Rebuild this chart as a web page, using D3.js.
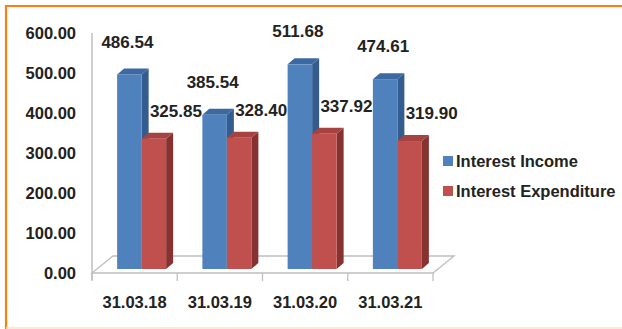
<!DOCTYPE html>
<html>
<head>
<meta charset="utf-8">
<script src="https://cdn.jsdelivr.net/npm/d3@7"></script>
<style>
  html, body { margin: 0; padding: 0; background: #fff; }
  svg { display: block; font-family: "Liberation Sans", Arial, sans-serif; font-weight: bold; }
</style>
</head>
<body>
<svg id="chart" width="622" height="329"></svg>
<script>
// Year-end figures
const categories = ["31.03.18", "31.03.19", "31.03.20", "31.03.21"];
const seriesNames = ["Interest Income", "Interest Expenditure"];
const interestIncome = [486.54, 385.54, 511.68, 474.61];
const interestExpenditure = [325.85, 328.40, 337.92, 319.90];
const yTicks = [0, 100, 200, 300, 400, 500, 600];

const svg = d3.select("#chart");
const W = 622, H = 329;

// frame: orange on top and left, pale on the bottom
svg.append("line").attr("x1", 5).attr("x2", W).attr("y1", 6).attr("y2", 6)
  .attr("stroke", "#FF7F0E").attr("stroke-width", 2.2);
svg.append("line").attr("x1", 6).attr("x2", 6).attr("y1", 5).attr("y2", 329)
  .attr("stroke", "#FF7F0E").attr("stroke-width", 2.2);
svg.append("line").attr("x1", 6).attr("x2", W).attr("y1", 328).attr("y2", 328)
  .attr("stroke", "#FFE2C4").attr("stroke-width", 1.5);

// plot geometry (front plane of the 3D box)
const left = 92, right = 433, floorY = 273, topY = 33;
const depthX = 21, depthY = -17;          // floor depth
const barDX = 7, barDY = -6;              // bar thickness
const barLift = -4;                       // bars stand a little behind the front edge
const barShift = 7;

const x = d3.scaleBand().domain(categories).range([left, right]).padding(0);
const y = d3.scaleLinear().domain([0, 600]).range([floorY, topY]);
const inner = d3.scaleBand().domain(seriesNames).range([0, 49]).padding(0);

const grey = "#BFBFBF";

// floor
svg.append("path")
  .attr("d", `M${left},${floorY} L${right},${floorY} L${right + depthX},${floorY + depthY} L${left + depthX},${floorY + depthY} Z`)
  .attr("fill", "none").attr("stroke", grey).attr("stroke-width", 1.3);

// value axis line
svg.append("line").attr("x1", left).attr("x2", left).attr("y1", y(600)).attr("y2", floorY + 7)
  .attr("stroke", grey).attr("stroke-width", 1.5);

// category tick marks
const bounds = categories.map(c => x(c)).concat([right]);
svg.selectAll("line.ctick").data(bounds).enter().append("line")
  .attr("class", "ctick")
  .attr("x1", d => d).attr("x2", d => d)
  .attr("y1", floorY).attr("y2", floorY + 8)
  .attr("stroke", grey).attr("stroke-width", 1.3);

// value axis labels
svg.selectAll("text.ylab").data(yTicks).enter().append("text")
  .attr("class", "ylab")
  .attr("x", 76).attr("y", d => y(d)).attr("dy", "0.36em")
  .attr("text-anchor", "end").attr("font-size", "16.5px").attr("fill", "#222")
  .text(d => d.toFixed(2));

// category labels
svg.selectAll("text.xlab").data(categories).enter().append("text")
  .attr("class", "xlab")
  .attr("x", d => x(d) + x.bandwidth() / 2).attr("y", 302).attr("dy", "0.36em")
  .attr("text-anchor", "middle").attr("font-size", "16.5px").attr("fill", "#222")
  .text(d => d);

// 3D bars
const palette = {
  "Interest Income": { front: "#4F81BD", top: "#3C69A1", side: "#355C8E" },
  "Interest Expenditure": { front: "#C0504D", top: "#A64340", side: "#853230" }
};
const rows = [];
categories.forEach((c, i) => {
  rows.push({ cat: c, series: seriesNames[0], value: interestIncome[i] });
  rows.push({ cat: c, series: seriesNames[1], value: interestExpenditure[i] });
});
rows.forEach(r => {
  const cx = x(r.cat) + x.bandwidth() / 2 + barShift;
  r.x0 = cx - inner.range()[1] / 2 + inner(r.series);
  r.x1 = r.x0 + inner.bandwidth();
  r.yTop = y(r.value) + barLift;
  r.yBase = y(0) + barLift;
});

const bars = svg.selectAll("g.bar").data(rows).enter().append("g").attr("class", "bar");
bars.append("path") // side
  .attr("d", d => `M${d.x1},${d.yBase} L${d.x1 + barDX},${d.yBase + barDY} L${d.x1 + barDX},${d.yTop + barDY} L${d.x1},${d.yTop} Z`)
  .attr("fill", d => palette[d.series].side);
bars.append("path") // top
  .attr("d", d => `M${d.x0},${d.yTop} L${d.x0 + barDX},${d.yTop + barDY} L${d.x1 + barDX},${d.yTop + barDY} L${d.x1},${d.yTop} Z`)
  .attr("fill", d => palette[d.series].top);
bars.append("rect") // front
  .attr("x", d => d.x0).attr("y", d => d.yTop)
  .attr("width", d => d.x1 - d.x0).attr("height", d => d.yBase - d.yTop)
  .attr("fill", d => palette[d.series].front);

// value labels
svg.selectAll("text.vlab").data(rows).enter().append("text")
  .attr("class", "vlab")
  .attr("x", d => d.series === seriesNames[0] ? (d.x0 + d.x1) / 2 - 2 : (d.x0 + d.x1) / 2 + 22)
  .attr("y", d => d.series === seriesNames[0] ? d.yTop + barDY - 27 : d.yTop + barDY - 22)
  .attr("dy", "0.36em")
  .attr("text-anchor", "middle").attr("font-size", "17px").attr("fill", "#222")
  .text(d => d.value.toFixed(2));

// legend
const legend = svg.selectAll("g.leg").data(seriesNames).enter().append("g")
  .attr("class", "leg")
  .attr("transform", (d, i) => `translate(443, ${161 + i * 30})`);
legend.append("rect").attr("x", 0).attr("y", -5).attr("width", 10).attr("height", 10)
  .attr("fill", d => palette[d].front);
legend.append("text").attr("x", 13).attr("y", 0).attr("dy", "0.36em")
  .attr("font-size", "16.5px").attr("fill", "#222")
  .text(d => d);
</script>
</body>
</html>
